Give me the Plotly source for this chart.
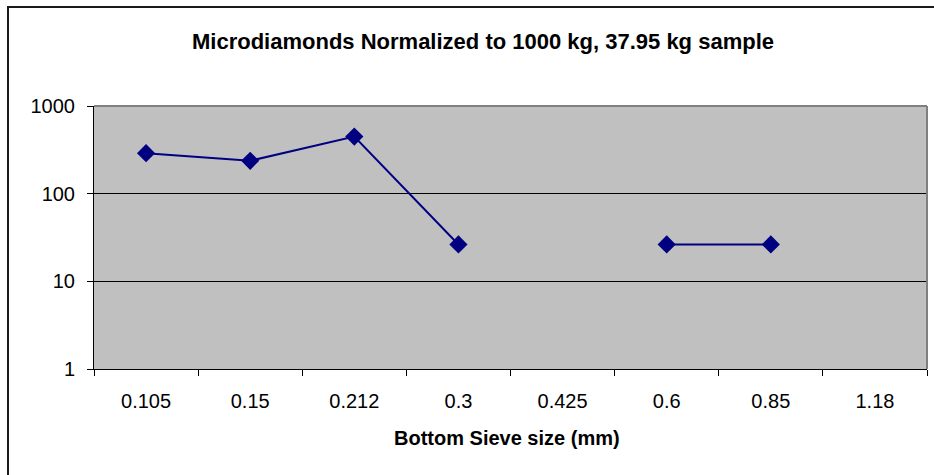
import plotly.graph_objects as go

categories = ["0.105", "0.15", "0.212", "0.3", "0.425", "0.6", "0.85", "1.18"]
diamonds_per_1000kg = [289.9, 237.2, 448.0, 26.35, None, 26.35, 26.35, None]
y_tick_vals = [1, 10, 100, 1000]
y_tick_text = ["1", "10", "100", "1000"]

W, H = 934, 475
L, R, T, B = 94, 7, 106, 106
pw, ph = W - L - R, H - T - B

def px_x(p):
    return (p - L) / pw

def px_y(p):
    return (H - B - p) / ph

FONT = "Liberation Sans, Arial, sans-serif"

fig = go.Figure()
fig.add_trace(go.Scatter(
    x=categories, y=diamonds_per_1000kg, mode="lines+markers",
    line=dict(color="#000080", width=2),
    marker=dict(symbol="diamond", size=14, color="#000080"),
    connectgaps=False, showlegend=False, cliponaxis=False,
))

fig.update_layout(
    width=W, height=H,
    margin=dict(l=L, r=R, t=T, b=B),
    paper_bgcolor="white", plot_bgcolor="#C0C0C0",
    font=dict(family=FONT, size=20, color="black"),
    xaxis=dict(type="category", categoryorder="array", categoryarray=categories,
               tickson="boundaries", ticks="outside", ticklen=6, tickcolor="black",
               showline=True, linecolor="black", linewidth=1, showgrid=False,
               zeroline=False, tickfont=dict(size=20), ticklabelstandoff=14,
               range=[-0.5, 7.5]),
    yaxis=dict(type="log", range=[0, 3], tickvals=y_tick_vals, ticktext=y_tick_text,
               ticks="outside", ticklen=6, tickcolor="black",
               showline=True, linecolor="black", linewidth=1,
               showgrid=True, gridcolor="black", gridwidth=1, zeroline=False,
               tickfont=dict(size=20), ticklabelstandoff=8),
)

fig.add_annotation(text="<b>Microdiamonds Normalized to 1000 kg, 37.95 kg sample</b>",
                   xref="paper", yref="paper", x=px_x(483), y=px_y(41),
                   xanchor="center", yanchor="middle", showarrow=False,
                   font=dict(size=22))
fig.add_annotation(text="<b>Bottom Sieve size (mm)</b>", xref="paper", yref="paper",
                   x=px_x(507), y=px_y(438), xanchor="center", yanchor="middle",
                   showarrow=False, font=dict(size=20))

# plot area gray border (top and right)
fig.add_shape(type="line", xref="paper", yref="paper", x0=0, x1=1, y0=1, y1=1,
              line=dict(color="#808080", width=2))
fig.add_shape(type="line", xref="paper", yref="paper", x0=1, x1=1, y0=0, y1=1,
              line=dict(color="#808080", width=2))
# outer chart border (right and bottom edges lie outside the picture)
fig.add_shape(type="rect", xref="paper", yref="paper",
              x0=px_x(8), x1=px_x(945), y0=px_y(490), y1=px_y(7),
              line=dict(color="#1a1a1a", width=2), layer="below")

fig.write_html("out.html", config={"displayModeBar": False},
               post_script="document.body.style.margin='0';document.body.style.overflow='hidden';")
